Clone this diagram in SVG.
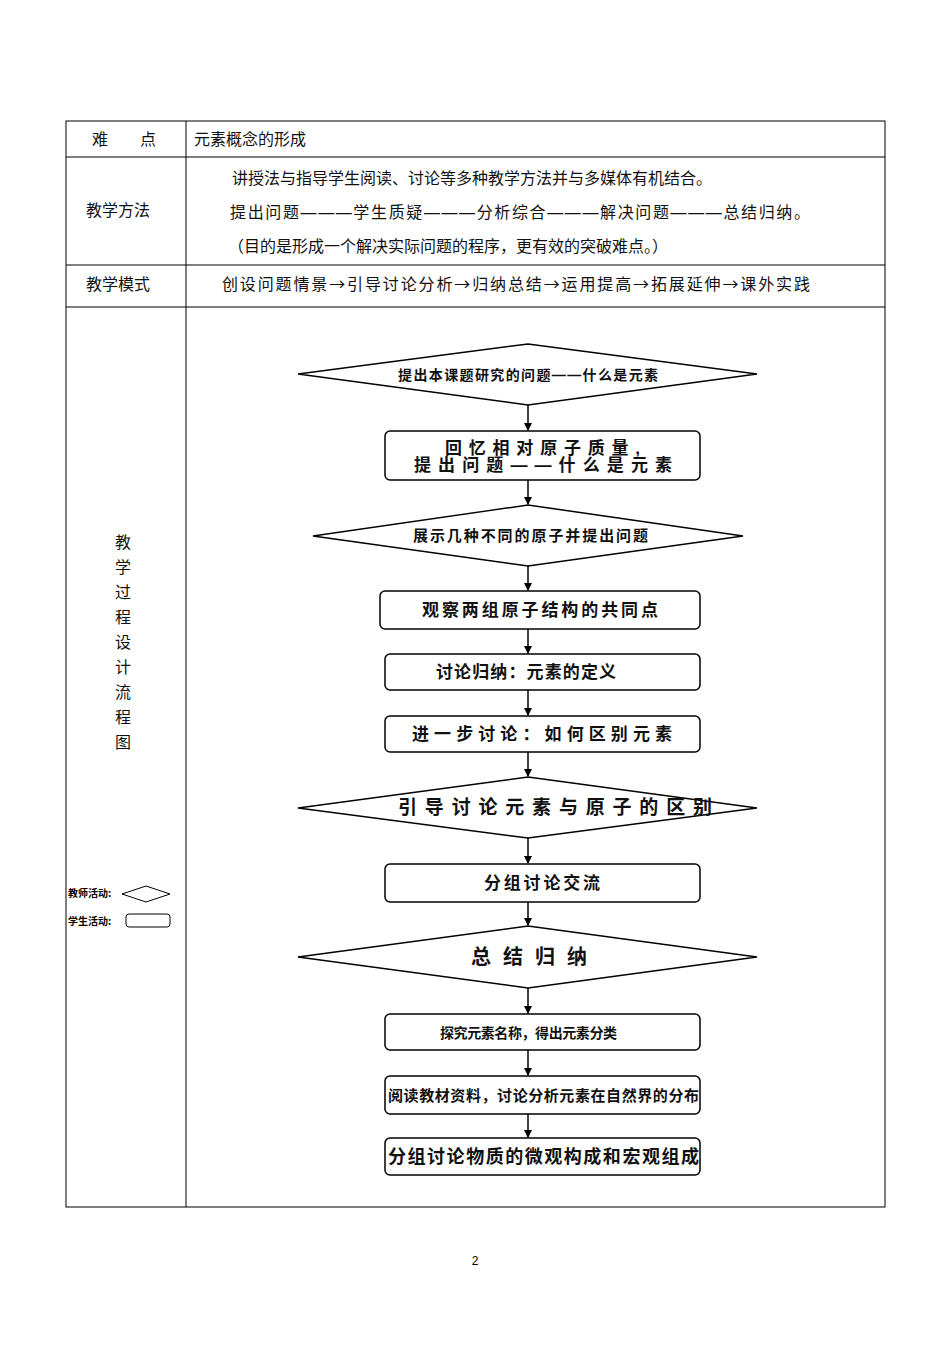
<svg xmlns="http://www.w3.org/2000/svg" width="950" height="1345" viewBox="0 0 950 1345">
<defs>
<marker id="ah" markerWidth="8" markerHeight="8" refX="7" refY="4" orient="auto" markerUnits="userSpaceOnUse"><path d="M0,0 L8,4 L0,8 z" fill="#000"/></marker>
<style>
.t{font-family:"Liberation Sans","Noto Sans CJK SC",sans-serif;font-size:16px;fill:#111}
.b{font-family:"Liberation Sans","Noto Sans CJK SC",sans-serif;font-size:14px;font-weight:bold;fill:#111;text-anchor:start}
.s{fill:#fff;stroke:#000;stroke-width:1.5}
.l{stroke:#000;stroke-width:1;fill:none}
.c{stroke:#000;stroke-width:1.5;marker-end:url(#ah)}
</style>
</defs>
<rect width="950" height="1345" fill="#fff"/>
<g id="table">
<rect x="66" y="121" width="819" height="1086" class="l"/>
<line x1="186" y1="121" x2="186" y2="1207" class="l"/>
<line x1="66" y1="157" x2="885" y2="157" class="l"/>
<line x1="66" y1="265" x2="885" y2="265" class="l"/>
<line x1="66" y1="307" x2="885" y2="307" class="l"/>
<text x="92" y="145" class="t">难</text><text x="140" y="145" class="t">点</text>
<text x="194" y="145" class="t">元素概念的形成</text>
<text x="86" y="216" class="t">教学方法</text>
<text x="232" y="184" class="t">讲授法与指导学生阅读、讨论等多种教学方法并与多媒体有机结合。</text>
<text x="230" y="218" class="t" textLength="580">提出问题———学生质疑———分析综合———解决问题———总结归纳。</text>
<text x="228" y="252" class="t">（目的是形成一个解决实际问题的程序，更有效的突破难点。）</text>
<text x="86" y="290" class="t">教学模式</text>
<text x="222" y="290" class="t" textLength="588" style="font-family:'Noto Sans CJK SC',sans-serif">创设问题情景→引导讨论分析→归纳总结→运用提高→拓展延伸→课外实践</text>
<g class="t" text-anchor="middle">
<text x="123" y="548">教</text><text x="123" y="573">学</text><text x="123" y="598">过</text><text x="123" y="623">程</text><text x="123" y="648">设</text><text x="123" y="673">计</text><text x="123" y="698">流</text><text x="123" y="723">程</text><text x="123" y="748">图</text>
</g>
</g>
<g id="legend">
<text x="68" y="897" style="font-family:'Noto Sans CJK SC',sans-serif;font-size:10px;font-weight:bold">教师活动:</text>
<polygon points="122,894 146,886 170,894 146,902" class="l"/>
<text x="68" y="925" style="font-family:'Noto Sans CJK SC',sans-serif;font-size:10px;font-weight:bold">学生活动:</text>
<rect x="126" y="914" width="44" height="13" rx="3" class="l"/>
</g>
<g id="connectors">
<line x1="528" y1="405" x2="528" y2="430" class="c"/>
<line x1="528" y1="480" x2="528" y2="504" class="c"/>
<line x1="528" y1="566" x2="528" y2="590" class="c"/>
<line x1="528" y1="629" x2="528" y2="653" class="c"/>
<line x1="528" y1="690" x2="528" y2="715" class="c"/>
<line x1="528" y1="752" x2="528" y2="776" class="c"/>
<line x1="528" y1="838" x2="528" y2="863" class="c"/>
<line x1="528" y1="902" x2="528" y2="925" class="c"/>
<line x1="528" y1="988" x2="528" y2="1013" class="c"/>
<line x1="528" y1="1050" x2="528" y2="1075" class="c"/>
<line x1="528" y1="1114" x2="528" y2="1137" class="c"/>
</g>
<g id="n1"><polygon points="298,374 528,344 757,374 528,405" class="s"/><text x="398" y="380" class="b" textLength="260">提出本课题研究的问题——什么是元素</text></g>
<g id="n2"><rect x="385" y="431" width="315" height="49" rx="5" class="s"/><text x="445" y="454" class="b" style="font-size:17px" textLength="195">回忆相对原子质量,</text><text x="414" y="471" class="b" style="font-size:17px" textLength="258">提出问题——什么是元素</text></g>
<g id="n3"><polygon points="313,536 528,505 743,536 528,566" class="s"/><text x="413" y="541" class="b" style="font-size:15px" textLength="235">展示几种不同的原子并提出问题</text></g>
<g id="n4"><rect x="380" y="591" width="320" height="38" rx="5" class="s"/><text x="422" y="616" class="b" style="font-size:17px" textLength="236">观察两组原子结构的共同点</text></g>
<g id="n5"><rect x="385" y="654" width="315" height="36" rx="5" class="s"/><text x="436" y="678" class="b" style="font-size:17px" textLength="180">讨论归纳：元素的定义</text></g>
<g id="n6"><rect x="385" y="716" width="315" height="36" rx="5" class="s"/><text x="412" y="740" class="b" style="font-size:17px" textLength="260">进一步讨论：如何区别元素</text></g>
<g id="n7"><polygon points="298,808 528,777 757,808 528,838" class="s"/><text x="398" y="814" class="b" style="font-size:19px" textLength="314">引导讨论元素与原子的区别</text></g>
<g id="n8"><rect x="385" y="864" width="315" height="38" rx="5" class="s"/><text x="484" y="889" class="b" style="font-size:17px" textLength="116">分组讨论交流</text></g>
<g id="n9"><polygon points="298,957 528,926 757,957 528,988" class="s"/><text x="471" y="964" class="b" style="font-size:20px" textLength="116">总结归纳</text></g>
<g id="n10"><rect x="385" y="1014" width="315" height="36" rx="5" class="s"/><text x="440" y="1038" class="b" textLength="177">探究元素名称，得出元素分类</text></g>
<g id="n11"><rect x="385" y="1076" width="315" height="38" rx="5" class="s"/><text x="388" y="1101" class="b" style="font-size:15px" textLength="311">阅读教材资料，讨论分析元素在自然界的分布</text></g>
<g id="n12"><rect x="385" y="1138" width="315" height="37" rx="5" class="s"/><text x="388" y="1163" class="b" style="font-size:18px" textLength="311">分组讨论物质的微观构成和宏观组成</text></g>
<text x="475" y="1265" text-anchor="middle" style="font-family:'Liberation Sans',sans-serif;font-size:12px">2</text>
</svg>
